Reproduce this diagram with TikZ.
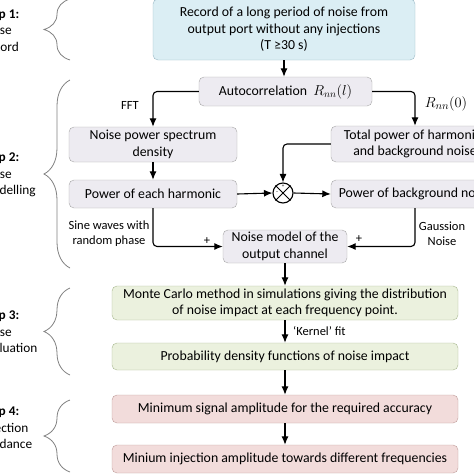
\documentclass[tikz,border=0pt]{standalone}
\usepackage{fontspec}
\setmainfont{Carlito}
\usetikzlibrary{positioning,arrows.meta,decorations.pathreplacing}
\definecolor{recfill}{HTML}{DBEEF4}
\definecolor{recline}{HTML}{9AB8C4}
\definecolor{modfill}{HTML}{EDEBF1}
\definecolor{modline}{HTML}{A6A6A6}
\definecolor{evafill}{HTML}{EBF1DE}
\definecolor{evaline}{HTML}{A8B890}
\definecolor{injfill}{HTML}{F2DCDB}
\definecolor{injline}{HTML}{BE9C9A}
\newcommand{\nboxfont}{\fontsize{13.8}{16.5}\selectfont}
\newcommand{\nlabfont}{\fontsize{12.5}{15}\selectfont}
\begin{document}
\begin{tikzpicture}[x=1pt,y=1pt,
  nbox/.style={draw,rounded corners=5pt,align=center,inner sep=0pt,font=\nboxfont},
  recbox/.style={nbox,draw=recline,fill=recfill},
  modbox/.style={nbox,draw=modline,fill=modfill},
  evabox/.style={nbox,draw=evaline,fill=evafill},
  injbox/.style={nbox,draw=injline,fill=injfill},
  flow/.style={-{Latex[length=8.5pt,width=7pt]},line width=1.1pt,rounded corners=4pt},
  lab/.style={align=center,font=\nlabfont,inner sep=0pt},
  steptext/.style={anchor=west,align=left,font=\fontsize{13.3}{16.5}\selectfont,inner sep=0pt},
  stepbrace/.style={draw=gray,line width=0.8pt,decorate,decoration={brace,amplitude=26pt}}]
 \clip (0,0) rectangle (474,-474);
 \useasboundingbox (0,0) rectangle (474,-474);

 % step 1
 \node[recbox,minimum width=262,minimum height=61] (rec) at (284,-29.5) {Record of a long period of noise from\\output port without any injections\\(T ≥30 s)};

 % step 2
 \node[modbox,minimum width=173,minimum height=29] (acorr) at (285.5,-91.5) {Autocorrelation\ \ $R_{nn}(l)$};
 \node[modbox,minimum width=168,minimum height=35] (psd) at (153,-144.5) {Noise power spectrum\\density};
 \node[modbox,minimum width=168,minimum height=28] (harm) at (153,-194) {Power of each harmonic};
 \node[modbox,minimum width=168,minimum height=36] (tot) at (415,-144) {Total power of harmonics\\and background noise};
 \node[modbox,minimum width=168,minimum height=28] (bgn) at (415,-194) {Power of background noise};
 \node[shape=circle,draw,line width=1.1pt,fill=white,minimum size=20pt,inner sep=0pt] (mix) at (283,-193) {};
 \draw[line width=1pt] (mix.north west) -- (mix.south east);
 \draw[line width=1pt] (mix.north east) -- (mix.south west);
 \node[font=\tiny,inner sep=0pt] (mixplus) at (283,-186.5) {+};
 \node[font=\tiny,inner sep=0pt] (mixminus) at (277,-193) {−};
 \node[modbox,minimum width=124,minimum height=33] (model) at (285,-246.5) {Noise model of the\\output channel};

 % step 3
 \node[evabox,minimum width=346,minimum height=34] (mc) at (285,-303) {Monte Carlo method in simulations giving the distribution\\of noise impact at each frequency point.};
 \node[evabox,minimum width=346,minimum height=27] (pdf) at (285,-356.5) {Probability density functions of noise impact};

 % step 4
 \node[injbox,minimum width=346,minimum height=28] (minsig) at (285,-409) {Minimum signal amplitude for the required accuracy};
 \node[injbox,minimum width=346,minimum height=28] (mininj) at (285,-459) {Minium injection amplitude towards different frequencies};

 % side labels
 \node[lab] (fft) at (130,-105) {FFT};
 \node[lab,font=\fontsize{15}{17}\selectfont] (rzero) at (446,-104) {$R_{nn}(0)$};
 \node[lab] (sine) at (109,-233.5) {Sine waves with\\random phase};
 \node[lab] (gauss) at (442,-233.5) {Gaussion\\Noise};
 \node[lab,anchor=west] (kernel) at (293,-331) {‘Kernel’ fit};
 \node[lab] (lplus) at (207,-241) {+};
 \node[lab] (rplus) at (359,-239) {+};

 % connectors
 \draw[flow] (rec.south) -- (rec.south |- acorr.north);
 \draw[flow] (acorr.west) -| (psd.north);
 \draw[flow] (acorr.east) -| (tot.north);
 \draw[flow] (psd.south) -- (harm.north);
 \draw[flow] (harm.east) -- (mix.west);
 \draw[flow] (tot.west) -| (mix.north);
 \draw[flow] (mix.east) -- (bgn.west);
 \draw[flow] (harm.south) |- (model.west);
 \draw[flow] (bgn.south) |- (model.east);
 \draw[flow] (model.south) -- (mc.north);
 \draw[flow] (mc.south) -- (pdf.north);
 \draw[flow] (pdf.south) -- (minsig.north);
 \draw[flow] (minsig.south) -- (mininj.north);

 % braces and steps
 \draw[stepbrace] (70,-60) -- (70,1);
 \draw[stepbrace] (70,-268) -- (70,-80);
 \draw[stepbrace] (70,-375) -- (70,-288);
 \draw[stepbrace] (70,-472) -- (70,-400);
 \node[steptext] (step1) at (-19,-30.5) {\textbf{Step 1:}\\Noise\\Record};
 \node[steptext] (step2) at (-19,-175) {\textbf{Step 2:}\\Noise\\Modelling};
 \node[steptext] (step3) at (-19,-332) {\textbf{Step 3:}\\Noise\\Evaluation};
 \node[steptext] (step4) at (-19,-428) {\textbf{Step 4:}\\Injection\\Guidance};
\end{tikzpicture}
\end{document}
